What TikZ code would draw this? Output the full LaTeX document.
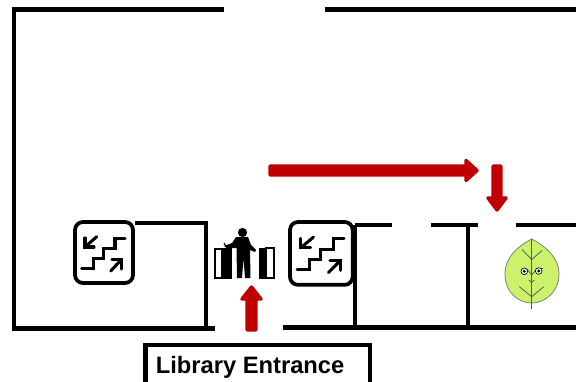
\documentclass[tikz,border=0pt]{standalone}
\usepackage{fontspec}
\setmainfont{Liberation Sans}
\definecolor{arrowred}{HTML}{C00000}
\definecolor{leafgreen}{HTML}{CCF26C}
\definecolor{veingray}{HTML}{555555}
\tikzset{
  wall/.style={line width=3.7pt,black,line cap=butt,line join=miter},
  redarrow/.style={fill=arrowred,draw=arrowred,line width=2.6pt,line join=round},
  icon/.style={line width=2.8pt,black,rounded corners=6pt},
  stairline/.style={line width=2.3pt,black,line join=miter,line cap=round},
  vein/.style={line width=0.55pt,veingray},
  pics/stairicon/.style={code={
    \draw[icon] (0,0) rectangle (58,61);
    \draw[stairline] (6.7,46.3) -- (18.3,46.3) -- (18.3,36.3) -- (28.3,36.3) -- (28.3,26.3) -- (40,26.3) -- (40,16.3) -- (50,16.3);
    \draw[stairline] (21.7,14.7) -- (10,25);
    \draw[stairline] (10,16) -- (10,25) -- (19,25);
    \draw[stairline] (35.7,49) -- (46.7,37.3);
    \draw[stairline] (37,37.3) -- (46.7,37.3) -- (46.7,47);
  }}
}
\begin{document}
\begin{tikzpicture}[x=0.75pt,y=-0.75pt]
\useasboundingbox (0,0) rectangle (576,382);
% outer walls
\draw[wall] (224,9.5) -- (14,9.5) -- (14,328.5) -- (215,328.5);
\draw[wall] (325,9.5) -- (576,9.5);
\draw[wall] (283,327.5) -- (576,327.5);
% left room
\draw[wall] (135,223) -- (206,223) -- (206,328);
% right rooms
\draw[wall] (355,225) -- (392,225);
\draw[wall] (355,225) -- (355,327);
\draw[wall] (431,225) -- (478,225);
\draw[wall] (468,225) -- (468,327);
\draw[wall] (516,225) -- (576,225);
% stair icons
\pic at (75,222) {stairicon};
\pic[xscale=1.08,yscale=1.03] at (290,222) {stairicon};
% gates
\draw[line width=1.5pt,fill=white] (215,249) rectangle (222,278);
\fill (221.5,248) rectangle (232,279);
\draw[line width=1.5pt,fill=white] (266,248) rectangle (274,278);
\fill (259,247.5) rectangle (266.5,279);
% person
\fill (242.5,232.5) circle (4.6);
\fill (236,237) -- (248,237) -- (251,245) -- (256,250) -- (255,252) -- (250,250) -- (250.5,278) -- (245,278) -- (243.5,258) -- (242,278) -- (237,278) -- (236.5,248) -- (227,248) -- (224,246) -- (232,243) -- cycle;
\draw[line width=0.8pt] (224,243) -- (227,248);
% red arrows
\draw[redarrow] (270,166) -- (466,166) -- (466,160.5) -- (477,170.5) -- (466,180.5) -- (466,175) -- (270,175) -- cycle;
\draw[redarrow] (493,166) -- (501,166) -- (501,198) -- (506,198) -- (497,210) -- (488,198) -- (493,198) -- cycle;
\draw[redarrow] (247,330) -- (256,330) -- (256,299) -- (261,299) -- (251.5,287) -- (242,299) -- (247,299) -- cycle;
% leaf
\draw[line width=0.6pt,draw=gray,fill=leafgreen] (531.7,239)
  .. controls (545,246) and (559,257) .. (559,274)
  .. controls (559,292) and (545,303) .. (531.7,303)
  .. controls (518,303) and (505,292) .. (505,274)
  .. controls (505,257) and (518,246) .. (531.7,239) -- cycle;
\draw[vein] (531.7,239) -- (531.7,309);
\draw[vein] (522,249.5) -- (531.7,259.5) -- (542,250.5);
\draw[vein] (519.3,286.7) -- (531.7,296.7) -- (543.7,286.7);
\draw[vein] (528,270) -- (531.7,275) -- (536,270);
\draw[vein] (528.7,280) -- (531.7,282.3) -- (534.3,280);
\draw[vein] (520.5,269) -- (528,269);
\draw[vein] (535.5,269) -- (543,268.5);
\draw[line width=0.5pt,fill=white] (524.3,271.3) circle (3.3);
\draw[line width=0.5pt,fill=white] (538.7,271) circle (3.3);
\fill (524.3,271.3) circle (1.6);
\fill (538.7,271) circle (1.6);
% label
\draw[line width=3.7pt] (145.5,382) -- (145.5,345) -- (370,345) -- (370,382);
\node[anchor=base west,inner sep=0pt,font=\bfseries\fontsize{17.8pt}{20pt}\selectfont] (entrance) at (155.5,373) {Library Entrance};
\end{tikzpicture}
\end{document}
